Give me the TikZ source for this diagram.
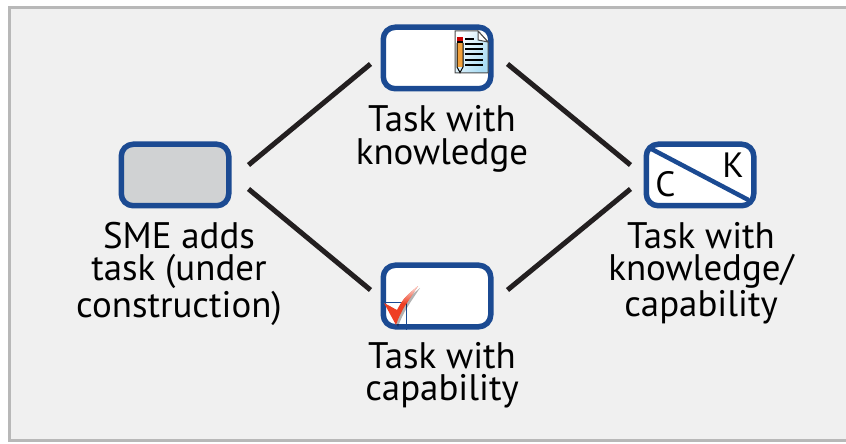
\documentclass[tikz,border=0pt]{standalone}
\usepackage{fontspec}
\setmainfont{PT Sans}
\definecolor{boxblue}{HTML}{1B4A92}
\definecolor{panelgray}{HTML}{F0F0F0}
\definecolor{framegray}{HTML}{B8B8B8}
\definecolor{linedark}{HTML}{231F20}
\definecolor{smegray}{HTML}{D0D2D3}
\definecolor{pencilorange}{HTML}{F2A13C}
\definecolor{paperblue}{HTML}{A9DCF4}
\definecolor{checkred}{HTML}{EE3F23}
\tikzset{
  taskbox/.style={draw=boxblue,line width=.11cm,rounded corners=.24cm,minimum width=2.15cm,minimum height=1.23cm,fill=white,inner sep=0pt},
  tasklabel/.style={align=center,font=\fontsize{21}{18.4}\selectfont,text=black,inner sep=0pt},
  letter/.style={font=\fontsize{20}{20}\selectfont,text=black,inner sep=0pt}
}
\begin{document}
\begin{tikzpicture}
  \useasboundingbox (0,0) rectangle (16.92,8.86);
  \draw[framegray,line width=.06cm,fill=panelgray] (.19,.05) rectangle (17,8.71);

  \node[taskbox,fill=smegray] (sme) at (3.5,5.36) {};
  \node[taskbox] (know) at (8.74,7.7) {};
  \node[taskbox] (cap) at (8.74,2.94) {};
  \node[taskbox] (both) at (14,5.36) {};

  \node[tasklabel,below=0pt] (sme_l) at (3.58,4.42) {SME adds\\task (under\\construction)};
  \node[tasklabel,below=0pt] (know_l) at (8.84,6.75) {Task with\\knowledge};
  \node[tasklabel,below=0pt] (cap_l) at (8.84,2.02) {Task with\\capability};
  \node[tasklabel,below=0pt] (both_l) at (14.02,4.42) {Task with\\knowledge/\\capability};

  \begin{scope}[every edge/.style={draw=linedark,line width=.1cm}]
    \path ([xshift=.34cm,yshift=.2cm]sme.east) edge ([xshift=-.2cm,yshift=-.12cm]know.west);
    \path ([xshift=.34cm,yshift=-.28cm]sme.east) edge ([xshift=-.2cm,yshift=.12cm]cap.west);
    \path ([xshift=.28cm,yshift=-.12cm]know.east) edge ([xshift=-.26cm,yshift=.2cm]both.west);
    \path ([xshift=.28cm,yshift=.12cm]cap.east) edge ([xshift=-.26cm,yshift=-.28cm]both.west);
  \end{scope}

  % divided box
  \draw[boxblue,line width=.09cm,line cap=round] ([xshift=.14cm,yshift=-.14cm]both.north west) -- ([xshift=-.18cm,yshift=.18cm]both.south east);
  \node[letter] (c_l) at (13.31,5.17) {C};
  \node[letter] (k_l) at (14.66,5.55) {K};

  % document icon
  \begin{scope}[shift={(9.1,7.4)}]
    \shade[left color=white,right color=paperblue,shading angle=60] (0,0) -- (0,.84) -- (.46,.84) -- (.66,.62) -- (.66,0) -- cycle;
    \draw[black!70,line width=.02cm] (0,0) -- (0,.84) -- (.46,.84) -- (.66,.62) -- (.66,0) -- cycle;
    \draw[black!70,line width=.02cm,fill=white] (.46,.84) -- (.46,.66) -- (.66,.62) -- cycle;
    \draw[black,line width=.03cm] (.2,.68) -- (.38,.68);
    \foreach \y in {.58,.48,.38,.26,.16}
      \draw[black,line width=.03cm] (.2,\y) -- (.56,\y);
    \fill[pencilorange] (.04,.12) rectangle (.16,.6);
    \fill[red!80!black] (.04,.64) rectangle (.16,.71);
    \fill[black] (.04,.6) rectangle (.16,.64);
    \draw[black,line width=.02cm] (.04,.6) -- (.04,.12) -- (.1,.01) -- (.16,.12) -- (.16,.6);
  \end{scope}

  % check icon
  \draw[boxblue,line width=.035cm] ([yshift=.54cm]cap.south west) -| ([xshift=.52cm]cap.south west);
  \fill[black,opacity=.3] (7.76,2.76) -- (7.98,2.62) .. controls (8.1,2.85) .. (8.4,3.1) .. controls (8.2,2.8) and (8.05,2.6) .. (7.96,2.32) -- cycle;
  \fill[checkred] (7.68,2.8) -- (7.94,2.66) .. controls (8.06,2.88) .. (8.36,3.14) .. controls (8.16,2.84) and (8.01,2.64) .. (7.92,2.36) -- cycle;
  \shade[bottom color=checkred,top color=checkred!15!white] (8.02,2.79) .. controls (8.12,2.94) .. (8.36,3.14) .. controls (8.24,2.98) .. (8.13,2.79) -- cycle;
\end{tikzpicture}
\end{document}
